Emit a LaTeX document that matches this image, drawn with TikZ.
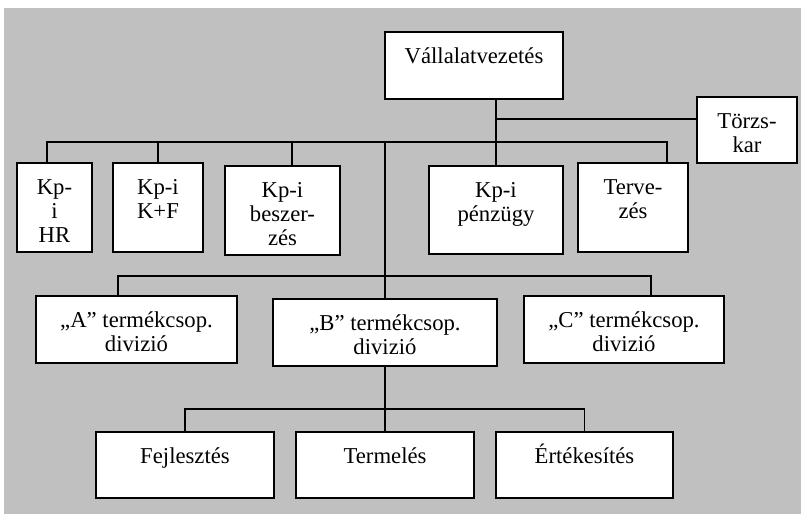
\documentclass[tikz,border=0pt]{standalone}
\usepackage{fontspec}
\setmainfont{Liberation Serif}
\definecolor{panelgray}{HTML}{C0C0C0}
% multi-line caption whose baseline is the baseline of its first line
\newcommand\capstack[1]{\begin{tabular}[t]{@{}c@{}}#1\end{tabular}}
\begin{document}
\begin{tikzpicture}[x=1pt,y=-1pt,
  org/.style={draw, line width=1.8pt, fill=white, inner sep=0pt, outer sep=0pt},
  wire/.style={line width=1.8pt},
  caption/.style={anchor=base, inner sep=0pt, font=\fontsize{22.7}{24}\selectfont}]
\path[use as bounding box] (0,0) rectangle (801,514);
\fill[panelgray] (4,8) rectangle (801,514);

% boxes
\node[org, minimum width=178pt, minimum height=67pt] (vez)   at (474,65.5)  {};
\node[org, minimum width=100pt, minimum height=66pt] (torzs) at (747,130)   {};
\node[org, minimum width=75pt,  minimum height=89pt] (hr)    at (54.5,207.5) {};
\node[org, minimum width=90pt,  minimum height=89pt] (kf)    at (158,207.5) {};
\node[org, minimum width=115pt, minimum height=89pt] (besz)  at (282.5,210.5) {};
\node[org, minimum width=134pt, minimum height=88pt] (penz)  at (496,210)   {};
\node[org, minimum width=110pt, minimum height=89pt] (terv)  at (633,207.5) {};
\node[org, minimum width=201pt, minimum height=67pt] (divA)  at (136.5,329.5) {};
\node[org, minimum width=224pt, minimum height=67pt] (divB)  at (385,332.5) {};
\node[org, minimum width=200pt, minimum height=67pt] (divC)  at (624,329.5) {};
\node[org, minimum width=178pt, minimum height=66pt] (fej)   at (185,465)   {};
\node[org, minimum width=178pt, minimum height=66pt] (term)  at (385,465)   {};
\node[org, minimum width=177pt, minimum height=66pt] (ert)   at (584.5,465) {};

% captions, first baseline a fixed distance below each box top
\node[caption] (vez-t)   at ([yshift=-31pt]vez.north)   {\capstack{Vállalatvezetés}};
\node[caption] (torzs-t) at ([yshift=-31pt]torzs.north) {\capstack{Törzs-\\kar}};
\node[caption] (hr-t)    at ([yshift=-31pt]hr.north)    {\capstack{Kp-\\i\\HR}};
\node[caption] (kf-t)    at ([yshift=-31pt]kf.north)    {\capstack{Kp-i\\K+F}};
\node[caption] (besz-t)  at ([yshift=-31pt]besz.north)  {\capstack{Kp-i\\beszer-\\zés}};
\node[caption] (penz-t)  at ([yshift=-31pt]penz.north)  {\capstack{Kp-i\\pénzügy}};
\node[caption] (terv-t)  at ([yshift=-31pt]terv.north)  {\capstack{Terve-\\zés}};
\node[caption] (divA-t)  at ([yshift=-31pt]divA.north)  {\capstack{„A” termékcsop.\\divizió}};
\node[caption] (divB-t)  at ([yshift=-31pt]divB.north)  {\capstack{„B” termékcsop.\\divizió}};
\node[caption] (divC-t)  at ([yshift=-31pt]divC.north)  {\capstack{„C” termékcsop.\\divizió}};
\node[caption] (fej-t)   at ([yshift=-31pt]fej.north)   {\capstack{Fejlesztés}};
\node[caption] (term-t)  at ([yshift=-31pt]term.north)  {\capstack{Termelés}};
\node[caption] (ert-t)   at ([yshift=-31pt]ert.north)   {\capstack{Értékesítés}};

% bus junctions
\coordinate (tz)  at (496,119);
\coordinate (b1w) at (47,142);
\coordinate (b1e) at (667,142);
\coordinate (b1b) at (292,142);
\coordinate (b2w) at (118,276);
\coordinate (b2e) at (651,276);
\coordinate (b3w) at (185,409);
\coordinate (b3e) at (584.5,409);

% connectors
\draw[wire] (penz.north |- vez.south) -- (penz.north);
\draw[wire] (tz) -- (tz -| torzs.west);
\draw[wire] (b1w |- hr.north) -- (b1w) -- (b1e) -- (b1e |- terv.north);
\draw[wire] (kf.north |- b1w) -- (kf.north);
\draw[wire] (b1b) -- (b1b |- besz.north);
\draw[wire] (divB.north |- b1w) -- (divB.north);
\draw[wire] (b2w |- divA.north) -- (b2w) -- (b2e) -- (b2e |- divC.north);
\draw[wire] (divB.south) -- (term.north);
\draw[wire] (fej.north) -- (b3w) -- (b3e) -- (ert.north);
\end{tikzpicture}
\end{document}
